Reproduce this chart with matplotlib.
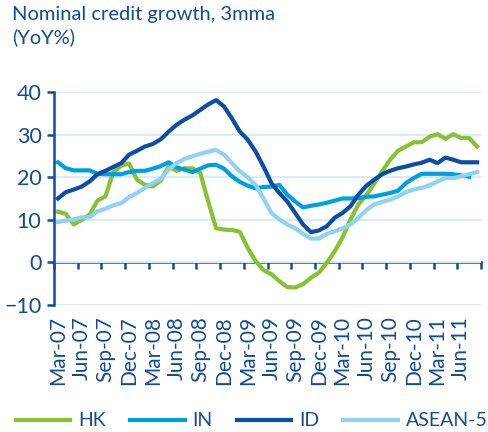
import matplotlib
matplotlib.use('Agg')
import matplotlib.pyplot as plt
import numpy as np

# quarterly tick labels (monthly data, Mar-07 .. Aug-11)
tick_labels = ['Mar-07', 'Jun-07', 'Sep-07', 'Dec-07', 'Mar-08', 'Jun-08',
               'Sep-08', 'Dec-08', 'Mar-09', 'Jun-09', 'Sep-09', 'Dec-09',
               'Mar-10', 'Jun-10', 'Sep-10', 'Dec-10', 'Mar-11', 'Jun-11']

# nominal credit growth, 3mma, YoY%
hk = [11.9, 11.4, 8.9, 10.0, 11.2, 14.5, 15.5, 21.2, 22.7, 23.2,
      19.4, 18.2, 17.8, 19.2, 22.5, 21.5, 22.1, 22.1, 21.0, 14.3,
      8.0, 7.7, 7.6, 7.2, 3.4, 0.3, -1.8, -2.8, -4.4, -5.8,
      -5.9, -5.1, -3.6, -2.4, -0.1, 2.6, 5.9, 10.1, 13.6, 15.8,
      18.5, 21.4, 24.1, 26.2, 27.2, 28.2, 28.2, 29.5, 30.1, 29.0,
      30.1, 29.2, 29.2, 27.2]
india = [23.5, 22.1, 21.6, 21.6, 21.6, 20.8, 20.7, 20.7, 20.7, 21.2,
         21.5, 21.5, 22.0, 22.6, 23.5, 22.3, 21.8, 21.2, 22.0, 22.8,
         22.9, 22.0, 20.2, 18.9, 18.0, 17.4, 17.7, 17.8, 18.2, 15.9,
         14.3, 12.9, 13.3, 13.6, 14.0, 14.5, 15.0, 15.0, 15.1, 15.4,
         15.5, 15.9, 16.3, 16.8, 18.6, 19.8, 20.8, 20.8, 20.8, 20.8,
         20.7, 20.4, 20.1]
indonesia = [15.0, 16.5, 17.1, 17.8, 19.0, 20.7, 21.5, 22.4, 23.3, 25.3,
             26.2, 27.2, 27.8, 28.9, 30.7, 32.3, 33.5, 34.5, 35.8, 37.1,
             38.1, 36.6, 33.8, 30.7, 28.8, 26.0, 22.5, 18.6, 16.3, 14.3,
             11.6, 8.9, 7.1, 7.5, 8.5, 10.5, 11.6, 13.2, 15.9, 18.0,
             19.4, 20.7, 21.5, 22.1, 22.5, 23.0, 23.4, 24.1, 23.3, 24.6,
             24.1, 23.5, 23.5, 23.5]
asean5 = [9.5, 9.8, 10.1, 10.6, 10.6, 12.0, 12.6, 13.4, 13.9, 15.3,
          16.3, 17.5, 18.6, 19.6, 21.8, 23.3, 24.3, 24.9, 25.5, 26.0,
          26.4, 25.3, 23.3, 21.4, 20.0, 18.2, 15.0, 11.6, 10.1, 8.9,
          8.0, 6.7, 5.6, 5.6, 6.7, 7.3, 8.0, 8.9, 10.5, 12.3,
          13.6, 14.2, 14.7, 15.5, 16.5, 17.1, 17.5, 18.1, 19.0, 19.8,
          19.8, 20.2, 20.7, 21.2]

plt.rcParams['font.family'] = ['Lato', 'DejaVu Sans']
navy = '#124a9c'

fig = plt.figure(figsize=(4.88, 4.32), dpi=100)
ax = fig.add_axes([54/488, 1 - 305/432, 427/488, 213/432])

ax.plot(np.arange(len(hk)), hk, color='#86c232', lw=3, label='HK')
ax.plot(np.arange(len(india)), india, color='#009fe3', lw=3, label='IN')
ax.plot(np.arange(len(indonesia)), indonesia, color='#0c4ea2', lw=3, label='ID')
ax.plot(np.arange(len(asean5)), asean5, color='#90d2f2', lw=3, label='ASEAN-5')

n = len(hk)
ax.set_xlim(-0.5, n - 0.5)
ax.set_ylim(-10, 40)
ax.set_yticks([-10, 0, 10, 20, 30, 40])
ax.grid(axis='y', color='#d6edf9', lw=1.5)
ax.set_axisbelow(True)
for s in ['top', 'right', 'bottom']:
    ax.spines[s].set_visible(False)
ax.spines['left'].set_color(navy)
ax.spines['left'].set_linewidth(1.8)
ax.tick_params(axis='y', colors=navy, labelsize=15.5, length=5, width=1.8, pad=4)

# category labels at the bottom
ax.set_xticks(np.arange(0, n, 3))
ax.set_xticklabels(tick_labels, rotation=90)
ax.tick_params(axis='x', length=0, pad=8, labelcolor=navy, labelsize=15)

# zero axis with tick marks between categories
sec = ax.secondary_xaxis(0.2)
sec.set_xticks(np.arange(-0.5, n, 3))
sec.set_xticklabels([])
sec.spines['bottom'].set_color(navy)
sec.spines['bottom'].set_linewidth(1.8)
sec.tick_params(axis='x', direction='out', length=5, width=1.8, color=navy)

fig.text(12/488, 1 - 6/432, 'Nominal credit growth, 3mma\n(YoY%)',
         ha='left', va='top', fontsize=14.5, color=navy, linespacing=1.35)

fig.legend(loc='center left', ncol=4, frameon=False,
           bbox_to_anchor=(16/488, 1 - 421/432), borderaxespad=0, borderpad=0,
           handlelength=2.8, handletextpad=0.4, columnspacing=1.25,
           fontsize=14, labelcolor=navy)

plt.savefig('out.png', dpi=100)
